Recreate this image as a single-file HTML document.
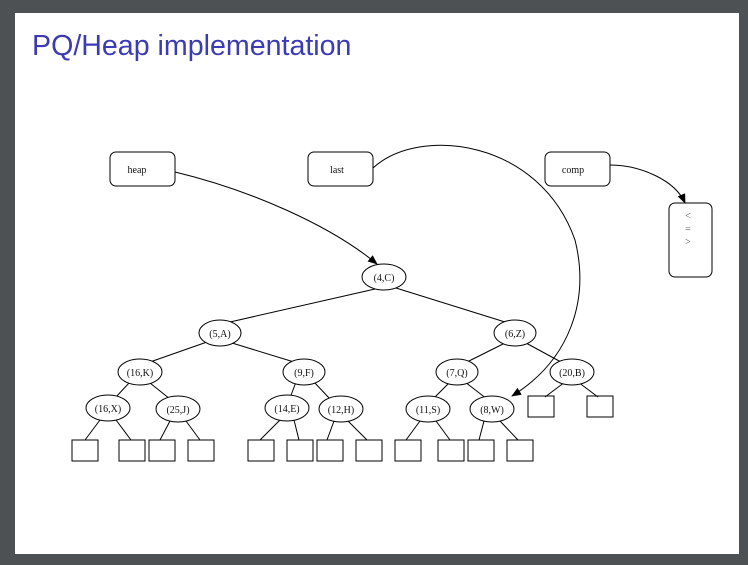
<!DOCTYPE html>
<html><head><meta charset="utf-8"><style>
html,body{margin:0;padding:0;background:#4e5153;width:748px;height:565px;overflow:hidden}
</style></head><body>
<svg width="748" height="565" viewBox="0 0 748 565" xmlns="http://www.w3.org/2000/svg" style="display:block">
<defs><marker id="a" markerWidth="10" markerHeight="8" refX="9" refY="4" orient="auto" markerUnits="userSpaceOnUse"><path d="M0,0 L10,4 L0,8 z" fill="#000"/></marker></defs>
<rect x="0" y="0" width="748" height="565" fill="#4e5153"/>
<rect x="15" y="13" width="724" height="541" fill="#fff"/>
<text x="32" y="55" font-family="Liberation Sans, sans-serif" font-size="28.6" fill="#3b3bb3">PQ/Heap implementation</text>
<g fill="none" stroke="#000" stroke-width="1">
<rect x="110" y="152" width="65" height="34" rx="6"/>
<rect x="308" y="152" width="65" height="34" rx="6"/>
<rect x="545" y="152" width="65" height="34" rx="6"/>
<rect x="669" y="203" width="43" height="74" rx="6"/>
<path d="M175,172 C250,190 330,225 377,264" marker-end="url(#a)"/>
<path d="M373,168 C420,125 540,140 575,240 C590,300 570,360 512,396" marker-end="url(#a)"/>
<path d="M610,165 C640,165 675,180 685,203" marker-end="url(#a)"/>
<path d="M375,289 L230,322 M396,288 L505,322 M207,342 L150,362 M232,343 L294,362 M505,343 L467,362 M526,343 L561,362 M130,382 L115,398 M150,383 L170,399 M296,382 L290,398 M314,382 L330,399 M450,382 L433,399 M465,382 L487,399 M565,382 L545,397 M578,382 L598,397"/>
<path d="M100,420 L85,440 M116,420 L131,440 M170,421 L160,440 M186,421 L200,440 M280,420 L260,440 M294,420 L299,440 M334,421 L327,440 M348,421 L367,440 M420,421 L406,440 M436,421 L450,440 M484,421 L479,440 M500,421 L518,440"/>
<g>
<rect x="72" y="440" width="26" height="21"/><rect x="119" y="440" width="26" height="21"/>
<rect x="149" y="440" width="26" height="21"/><rect x="188" y="440" width="26" height="21"/>
<rect x="248" y="440" width="26" height="21"/><rect x="287" y="440" width="26" height="21"/>
<rect x="317" y="440" width="26" height="21"/><rect x="356" y="440" width="26" height="21"/>
<rect x="395" y="440" width="26" height="21"/><rect x="438" y="440" width="26" height="21"/>
<rect x="468" y="440" width="26" height="21"/><rect x="507" y="440" width="26" height="21"/>
<rect x="528" y="396" width="26" height="21"/><rect x="587" y="396" width="26" height="21"/>
</g>
<g fill="#fff">
<ellipse cx="384" cy="277" rx="22" ry="13"/>
<ellipse cx="220" cy="333" rx="21" ry="13"/>
<ellipse cx="515" cy="333" rx="21" ry="13"/>
<ellipse cx="140" cy="372" rx="22" ry="13"/>
<ellipse cx="304" cy="372" rx="21" ry="13"/>
<ellipse cx="457" cy="372" rx="21" ry="13"/>
<ellipse cx="572" cy="372" rx="22" ry="13"/>
<ellipse cx="108" cy="408" rx="22" ry="13"/>
<ellipse cx="178" cy="409" rx="22" ry="13"/>
<ellipse cx="287" cy="408" rx="22" ry="13"/>
<ellipse cx="341" cy="409" rx="22" ry="13"/>
<ellipse cx="428" cy="409" rx="22" ry="13"/>
<ellipse cx="492" cy="409" rx="22" ry="13"/>
</g>
</g>
<g font-family="Liberation Serif, serif" font-size="10" fill="#111" text-anchor="middle">
<text x="137" y="173">heap</text><text x="337" y="173">last</text><text x="573" y="173">comp</text>
<text x="688" y="219" fill="#555">&lt;</text><text x="688" y="232" fill="#555">=</text><text x="688" y="245" fill="#555">&gt;</text>
<text x="384" y="281">(4,C)</text><text x="220" y="337">(5,A)</text><text x="515" y="337">(6,Z)</text>
<text x="140" y="376">(16,K)</text><text x="304" y="376">(9,F)</text><text x="457" y="376">(7,Q)</text><text x="572" y="376">(20,B)</text>
<text x="108" y="412">(16,X)</text><text x="178" y="413">(25,J)</text><text x="287" y="412">(14,E)</text><text x="341" y="413">(12,H)</text>
<text x="428" y="413">(11,S)</text><text x="492" y="413">(8,W)</text>
</g>
</svg>
</body></html>
